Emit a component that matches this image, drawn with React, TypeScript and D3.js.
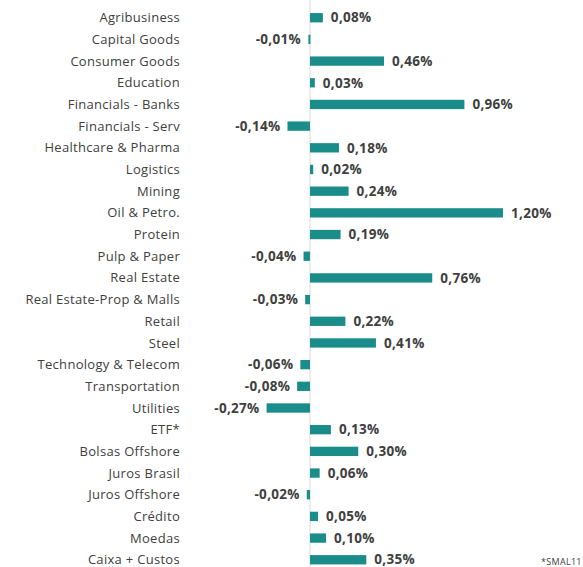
import React, { useRef, useEffect } from "react";
import * as d3 from "d3";

const categories = [
  "Agribusiness", "Capital Goods", "Consumer Goods", "Education", "Financials - Banks",
  "Financials - Serv", "Healthcare & Pharma", "Logistics", "Mining", "Oil & Petro.",
  "Protein", "Pulp & Paper", "Real Estate", "Real Estate-Prop & Malls", "Retail",
  "Steel", "Technology & Telecom", "Transportation", "Utilities", "ETF*",
  "Bolsas Offshore", "Juros Brasil", "Juros Offshore", "Crédito", "Moedas", "Caixa + Custos",
];
const values = [
  0.08, -0.01, 0.46, 0.03, 0.96,
  -0.14, 0.18, 0.02, 0.24, 1.2,
  0.19, -0.04, 0.76, -0.03, 0.22,
  0.41, -0.06, -0.08, -0.27, 0.13,
  0.3, 0.06, -0.02, 0.05, 0.1, 0.35,
];
const footnote = "*SMAL11";

const W = 583;
const H = 567;

export default function App() {
  const svgRef = useRef<SVGSVGElement>(null);

  useEffect(() => {
    if (!svgRef.current) return;
    const svg = d3.select(svgRef.current);
    svg.selectAll("*").remove();

    const data = categories.map((c, i) => ({ cat: c, v: values[i] }));
    const x = d3.scaleLinear().domain([0, 1.2]).range([310, 503]);
    const y = d3.scaleBand<string>().domain(categories).range([7, 570.5]).paddingInner(0.57).paddingOuter(0.28);
    const font = "'Open Sans', sans-serif";
    const txt = "#404040";

    // zero line
    svg.append("line")
      .attr("x1", x(0)).attr("x2", x(0))
      .attr("y1", 0).attr("y2", H)
      .attr("stroke", "#d9d9d9").attr("stroke-width", 1);

    svg.append("g").selectAll("rect")
      .data(data).join("rect")
      .attr("x", d => Math.min(x(0), x(d.v)))
      .attr("y", d => y(d.cat)!)
      .attr("width", d => Math.max(2, Math.abs(x(d.v) - x(0))))
      .attr("height", y.bandwidth())
      .attr("fill", "#1a8c8a");

    // category labels
    svg.append("g").selectAll("text")
      .data(data).join("text")
      .attr("x", 180)
      .attr("y", d => y(d.cat)! + y.bandwidth() / 2)
      .attr("dy", "0.35em")
      .attr("text-anchor", "end")
      .style("font-family", font)
      .style("font-size", "13px")
      .style("letter-spacing", "0.3px")
      .style("fill", txt)
      .text(d => d.cat);

    // value labels
    svg.append("g").selectAll("text")
      .data(data).join("text")
      .attr("x", d => d.v >= 0 ? x(d.v) + 8 : Math.min(x(d.v), x(0) - 2) - 7)
      .attr("y", d => y(d.cat)! + y.bandwidth() / 2)
      .attr("dy", "0.35em")
      .attr("text-anchor", d => d.v >= 0 ? "start" : "end")
      .style("font-family", font)
      .style("font-size", "13.5px")
      .style("letter-spacing", "0.3px")
      .style("font-weight", "bold")
      .style("fill", txt)
      .text(d => d.v.toFixed(2).replace(".", ",") + "%");

    svg.append("text")
      .attr("x", 541).attr("y", 565)
      .style("font-family", font)
      .style("font-size", "9px")
      .style("letter-spacing", "0.3px")
      .style("fill", txt)
      .text(footnote);
  }, []);

  return (
    <svg
      ref={svgRef}
      width={W}
      height={H}
      style={{ position: "absolute", left: 0, top: 0, background: "#fff" }}
    />
  );
}
